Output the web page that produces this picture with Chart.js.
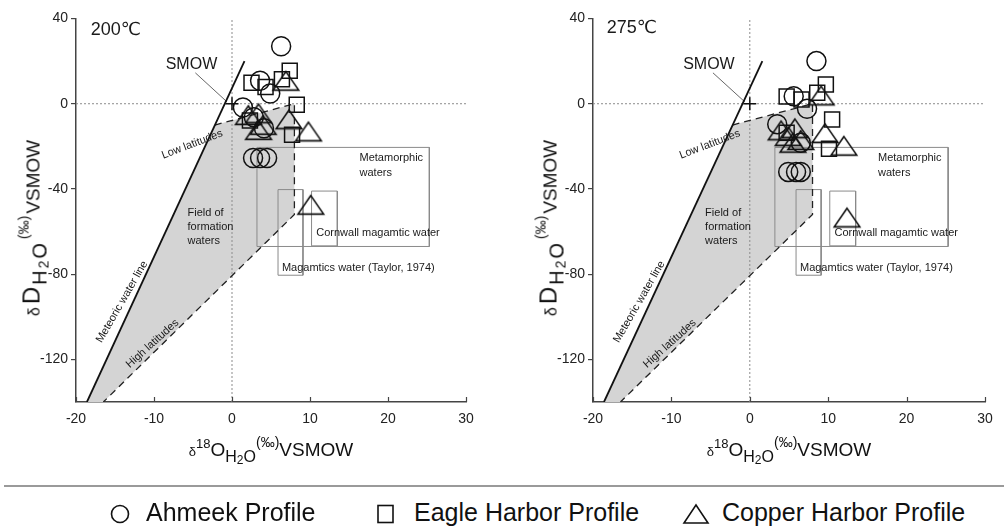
<!DOCTYPE html>
<html>
<head>
<meta charset="utf-8">
<script src="https://cdn.jsdelivr.net/npm/chart.js@4.4.1/dist/chart.umd.min.js"></script>
<style>
  html, body { margin:0; padding:0; background:#fff; }
  body { width:1004px; height:528px; overflow:hidden; position:relative;
         font-family:"Liberation Sans", Arial, Helvetica, sans-serif; color:#111; }
  canvas { position:absolute; top:0; }
  #c1 { left:0; }
  #c2 { left:517px; }
  .xt { position:absolute; top:436px; white-space:nowrap; font-size:19px; transform:translateX(-50%); line-height:28px; }
  .yt { position:absolute; white-space:nowrap; font-size:19px; line-height:30px;
        transform:translate(-50%,-50%) rotate(-90deg); }
  .dl { font-size:13px; }
  .sp { position:relative; top:-8px; font-size:13px; }
  .sb { position:relative; top:6px; font-size:16px; }
  .sb2 { position:relative; top:2px; font-size:12px; }
  .pm { position:relative; top:-9px; font-size:14px; }
  .yt .dl { font-size:16px; margin-right:3px; }
  .yt .bigD { font-size:24px; letter-spacing:2px; }
  .yt .sb { font-size:20px; top:7px; letter-spacing:2px; }
  .yt .sb2 { font-size:14px; top:2px; }
  .yt .pm { font-size:14px; top:-11px; margin:0 2px; }
  #rule { position:absolute; left:4px; top:485px; width:1000px; height:2px; background:#9a9a9a; }
  .li { position:absolute; top:497px; font-size:25px; line-height:30px; white-space:nowrap; }
  .sym { position:absolute; top:503px; }
</style>
</head>
<body>
<canvas id="c1" width="500" height="470"></canvas>
<canvas id="c2" width="487" height="470"></canvas>

<div class="xt" style="left:271px"><span class="dl">δ</span><span class="sp">18</span>O<span class="sb">H<span class="sb2">2</span>O</span><span class="pm">(‰)</span>VSMOW</div>
<div class="xt" style="left:789px"><span class="dl">δ</span><span class="sp">18</span>O<span class="sb">H<span class="sb2">2</span>O</span><span class="pm">(‰)</span>VSMOW</div>
<div class="yt" style="left:33px; top:228px"><span class="dl">δ</span><span class="bigD">D</span><span class="sb">H<span class="sb2">2</span>O</span><span class="pm">(‰)</span>VSMOW</div>
<div class="yt" style="left:550px; top:228px"><span class="dl">δ</span><span class="bigD">D</span><span class="sb">H<span class="sb2">2</span>O</span><span class="pm">(‰)</span>VSMOW</div>

<div id="rule"></div>
<svg class="sym" style="left:109px" width="22" height="22"><circle cx="11" cy="11" r="8.5" fill="none" stroke="#111" stroke-width="1.6"/></svg>
<div class="li" style="left:146px">Ahmeek Profile</div>
<svg class="sym" style="left:376px" width="20" height="22"><rect x="2" y="2.5" width="15" height="17" fill="none" stroke="#111" stroke-width="1.6"/></svg>
<div class="li" style="left:414px">Eagle Harbor Profile</div>
<svg class="sym" style="left:682px" width="30" height="22"><polygon points="14,2 2,20 26,20" fill="none" stroke="#111" stroke-width="1.6"/></svg>
<div class="li" style="left:722px">Copper Harbor Profile</div>

<script>
// ---------------- DATA ----------------
const xTicks = [-20, -10, 0, 10, 20, 30];
const yTicks = [-120, -80, -40, 0, 40];
const panelTitles = ['200℃', '275℃'];
const seriesNames = ['Ahmeek Profile', 'Eagle Harbor Profile', 'Copper Harbor Profile'];

// 200 °C panel  [δ18O, δD]
const ahmeek200 = [[6.3,27],[3.6,10.8],[4.9,4.8],[1.4,-1.8],[2.8,-6.3],[4.1,-11.5],[2.7,-25.5],[3.6,-25.5],[4.5,-25.5]];
const eagle200  = [[2.5,9.9],[4.3,7.8],[6.4,11.5],[7.4,15.5],[8.3,-0.5],[2.3,-7.9],[7.7,-14.6]];
const copper200 = [[6.9,10.8],[2.1,-5.3],[3.4,-4.5],[4.0,-9.9],[3.4,-12.3],[7.3,-7.3],[9.8,-13],[10.1,-47.4]];

// 275 °C panel
const ahmeek275 = [[8.5,20],[5.6,3.5],[7.3,-2.4],[3.5,-9.6],[6.5,-18.3],[4.9,-32],[5.9,-32],[6.5,-32]];
const eagle275  = [[9.7,9.0],[8.6,5.2],[4.7,3.4],[6.6,2.0],[10.5,-7.4],[4.7,-13.6],[10.1,-21.1]];
const copper275 = [[9.1,3.9],[4.0,-12.5],[5.75,-11.5],[4.9,-15.2],[6.5,-17],[5.5,-18.3],[9.6,-13.8],[12.0,-19.7],[12.4,-53.4]];

// reference fields
const smow = [[0,0]];
const meteoricLine = [[-18.6,-140],[1.6,20]];
const formationField = [[-18.6,-140],[-2.2,-10],[8,0],[8,-52],[-16.5,-140]];
const formationEdge = [[-2.2,-10],[8,0],[8,-52],[-16.5,-140]];
const zeroV = [[0,-140],[0,40]];
const zeroH = [[-20,0],[30,0]];
const metamorphicBox = [[3.2,-20.5],[25.3,-20.5],[25.3,-67],[3.2,-67],[3.2,-20.5]];
const taylorBox = [[5.9,-40.3],[9.1,-40.3],[9.1,-80.5],[5.9,-80.5],[5.9,-40.3]];
const cornwallBox = [[10.2,-41],[13.5,-41],[13.5,-66.7],[10.2,-66.7],[10.2,-41]];
const smowLeader = [[-4.7,14.5],[-0.65,0.9]];

const noteTexts = ['SMOW','Low latitudes','Meteoric water line','High latitudes','Field of','formation','waters',
                   'Metamorphic','waters','Cornwall magamtic water','Magamtics water (Taylor, 1974)'];

// ---------------- LAYOUT (positions in data units, styles) ----------------
const noteLayout = [
  {x:-8.5,  y:18.2,  size:16, align:'left',   rot:0},
  {x:-5.1,  y:-19.1, size:11, align:'center', rot:-21},
  {x:-14.1, y:-93,   size:11, align:'center', rot:-60},
  {x:-10.2, y:-112.6,size:11, align:'center', rot:-42},
  {x:-5.7,  y:-51.2, size:11, align:'left',   rot:0},
  {x:-5.7,  y:-57.9, size:11, align:'left',   rot:0},
  {x:-5.7,  y:-64.4, size:11, align:'left',   rot:0},
  {x:16.35, y:-25.6, size:11, align:'left',   rot:0},
  {x:16.35, y:-32.5, size:11, align:'left',   rot:0},
  {x:10.8,  y:-60.5, size:11, align:'left',   rot:0},
  {x:6.4,   y:-77.1, size:11, align:'left',   rot:0}
];
const titleLayout = [{x:-18.1, y:34.6}, {x:-18.25, y:35.6}];

const FONT = '"Liberation Sans", Arial, Helvetica, sans-serif';
Chart.defaults.font.family = FONT;

function pts(arr){ return arr.map(p => ({x:p[0], y:p[1]})); }

function triangleImage(){
  const c = document.createElement('canvas');
  c.width = 30; c.height = 24;
  const g = c.getContext('2d');
  g.strokeStyle = '#111'; g.lineWidth = 1.6; g.lineJoin = 'miter';
  g.beginPath(); g.moveTo(15, 2.8); g.lineTo(2.2, 21.4); g.lineTo(27.8, 21.4); g.closePath(); g.stroke();
  return c;
}
const triImg = triangleImage();

const notesPlugin = {
  id: 'notes',
  afterDatasetsDraw(chart, args, opts) {
    const ctx = chart.ctx, xs = chart.scales.x, ys = chart.scales.y;
    ctx.save();
    ctx.fillStyle = '#1a1a1a';
    ctx.textBaseline = 'middle';
    noteTexts.forEach((t, i) => {
      const L = noteLayout[i];
      ctx.save();
      ctx.translate(xs.getPixelForValue(L.x), ys.getPixelForValue(L.y));
      ctx.rotate(L.rot * Math.PI / 180);
      ctx.font = L.size + 'px ' + FONT;
      ctx.textAlign = L.align;
      ctx.fillText(t, 0, 0);
      ctx.restore();
    });
    const T = titleLayout[opts.panel];
    ctx.font = '18px "Liberation Sans", "DejaVu Sans", sans-serif';
    ctx.textAlign = 'left';
    ctx.fillText(panelTitles[opts.panel], xs.getPixelForValue(T.x), ys.getPixelForValue(T.y));
    // inward x-axis tick marks
    ctx.strokeStyle = '#444'; ctx.lineWidth = 1.2;
    const yb = ys.getPixelForValue(-140);
    xTicks.forEach(v => {
      const px = Math.round(xs.getPixelForValue(v)) + 0.5;
      ctx.beginPath(); ctx.moveTo(px, yb); ctx.lineTo(px, yb - 5); ctx.stroke();
    });
    ctx.restore();
  }
};

function lineDs(arr, color, width, dash, order){
  return { data: pts(arr), showLine: true, borderColor: color, borderWidth: width, borderDash: dash || [],
           pointRadius: 0, fill: false, order: order, tension: 0 };
}

function makeChart(id, panel, circles, squares, tris, padRight){
  const datasets = [
    { data: pts(formationField), showLine: true, fill: 'shape', backgroundColor: '#d4d4d4',
      borderColor: 'rgba(0,0,0,0)', borderWidth: 1, pointRadius: 0, order: 20 },
    lineDs(zeroV, '#8c8c8c', 1, [2,2], 15),
    lineDs(zeroH, '#8c8c8c', 1, [2,2], 15),
    lineDs(metamorphicBox, '#8a8a8a', 1, [], 12),
    lineDs(taylorBox, '#8a8a8a', 1, [], 12),
    lineDs(cornwallBox, '#8a8a8a', 1, [], 12),
    lineDs(formationEdge, '#222', 1.3, [7,5], 10),
    lineDs(meteoricLine, '#111', 1.8, [], 9),
    lineDs(smowLeader, '#666', 1, [], 9),
    { data: pts(smow), pointStyle: 'cross', pointRadius: 6.5, borderColor: '#111', borderWidth: 1.5, order: 5 },
    { label: seriesNames[0], data: pts(circles), pointStyle: 'circle', pointRadius: 9.5, borderWidth: 1.5,
      borderColor: '#111', backgroundColor: 'rgba(0,0,0,0)', order: 1 },
    { label: seriesNames[1], data: pts(squares), pointStyle: 'rect', pointRadius: 10.6, borderWidth: 1.5,
      borderColor: '#111', backgroundColor: 'rgba(0,0,0,0)', order: 1 },
    { label: seriesNames[2], data: pts(tris), pointStyle: triImg, pointRadius: 12, borderWidth: 1.5,
      borderColor: '#111', backgroundColor: 'rgba(0,0,0,0)', order: 1 }
  ];
  return new Chart(document.getElementById(id), {
    type: 'scatter',
    data: { datasets },
    options: {
      responsive: false, animation: false, events: [],
      layout: { padding: { top: 18.5, right: padRight, left: 0, bottom: 0 } },
      plugins: { legend: { display: false }, tooltip: { enabled: false }, notes: { panel: panel } },
      scales: {
        x: {
          type: 'linear', min: -20, max: 30,
          afterBuildTicks: s => { s.ticks = xTicks.map(v => ({ value: v })); },
          afterFit: s => { s.height = 68; },
          ticks: { font: { size: 14 }, color: '#222', padding: 1, maxRotation: 0 },
          grid: { display: false },
          border: { display: true, color: '#444', width: 1.5 }
        },
        y: {
          type: 'linear', min: -140, max: 40,
          afterBuildTicks: s => { s.ticks = yTicks.map(v => ({ value: v })); },
          afterFit: s => { s.width = 76; },
          ticks: { font: { size: 14 }, color: '#222', padding: 3 },
          grid: { display: true, drawOnChartArea: false, drawTicks: true, tickLength: 5, color: '#444', lineWidth: 1.2 },
          border: { display: true, color: '#444', width: 1.5 }
        }
      }
    },
    plugins: [notesPlugin]
  });
}

makeChart('c1', 0, ahmeek200, eagle200, copper200, 34);
makeChart('c2', 1, ahmeek275, eagle275, copper275, 19);
</script>
</body>
</html>
